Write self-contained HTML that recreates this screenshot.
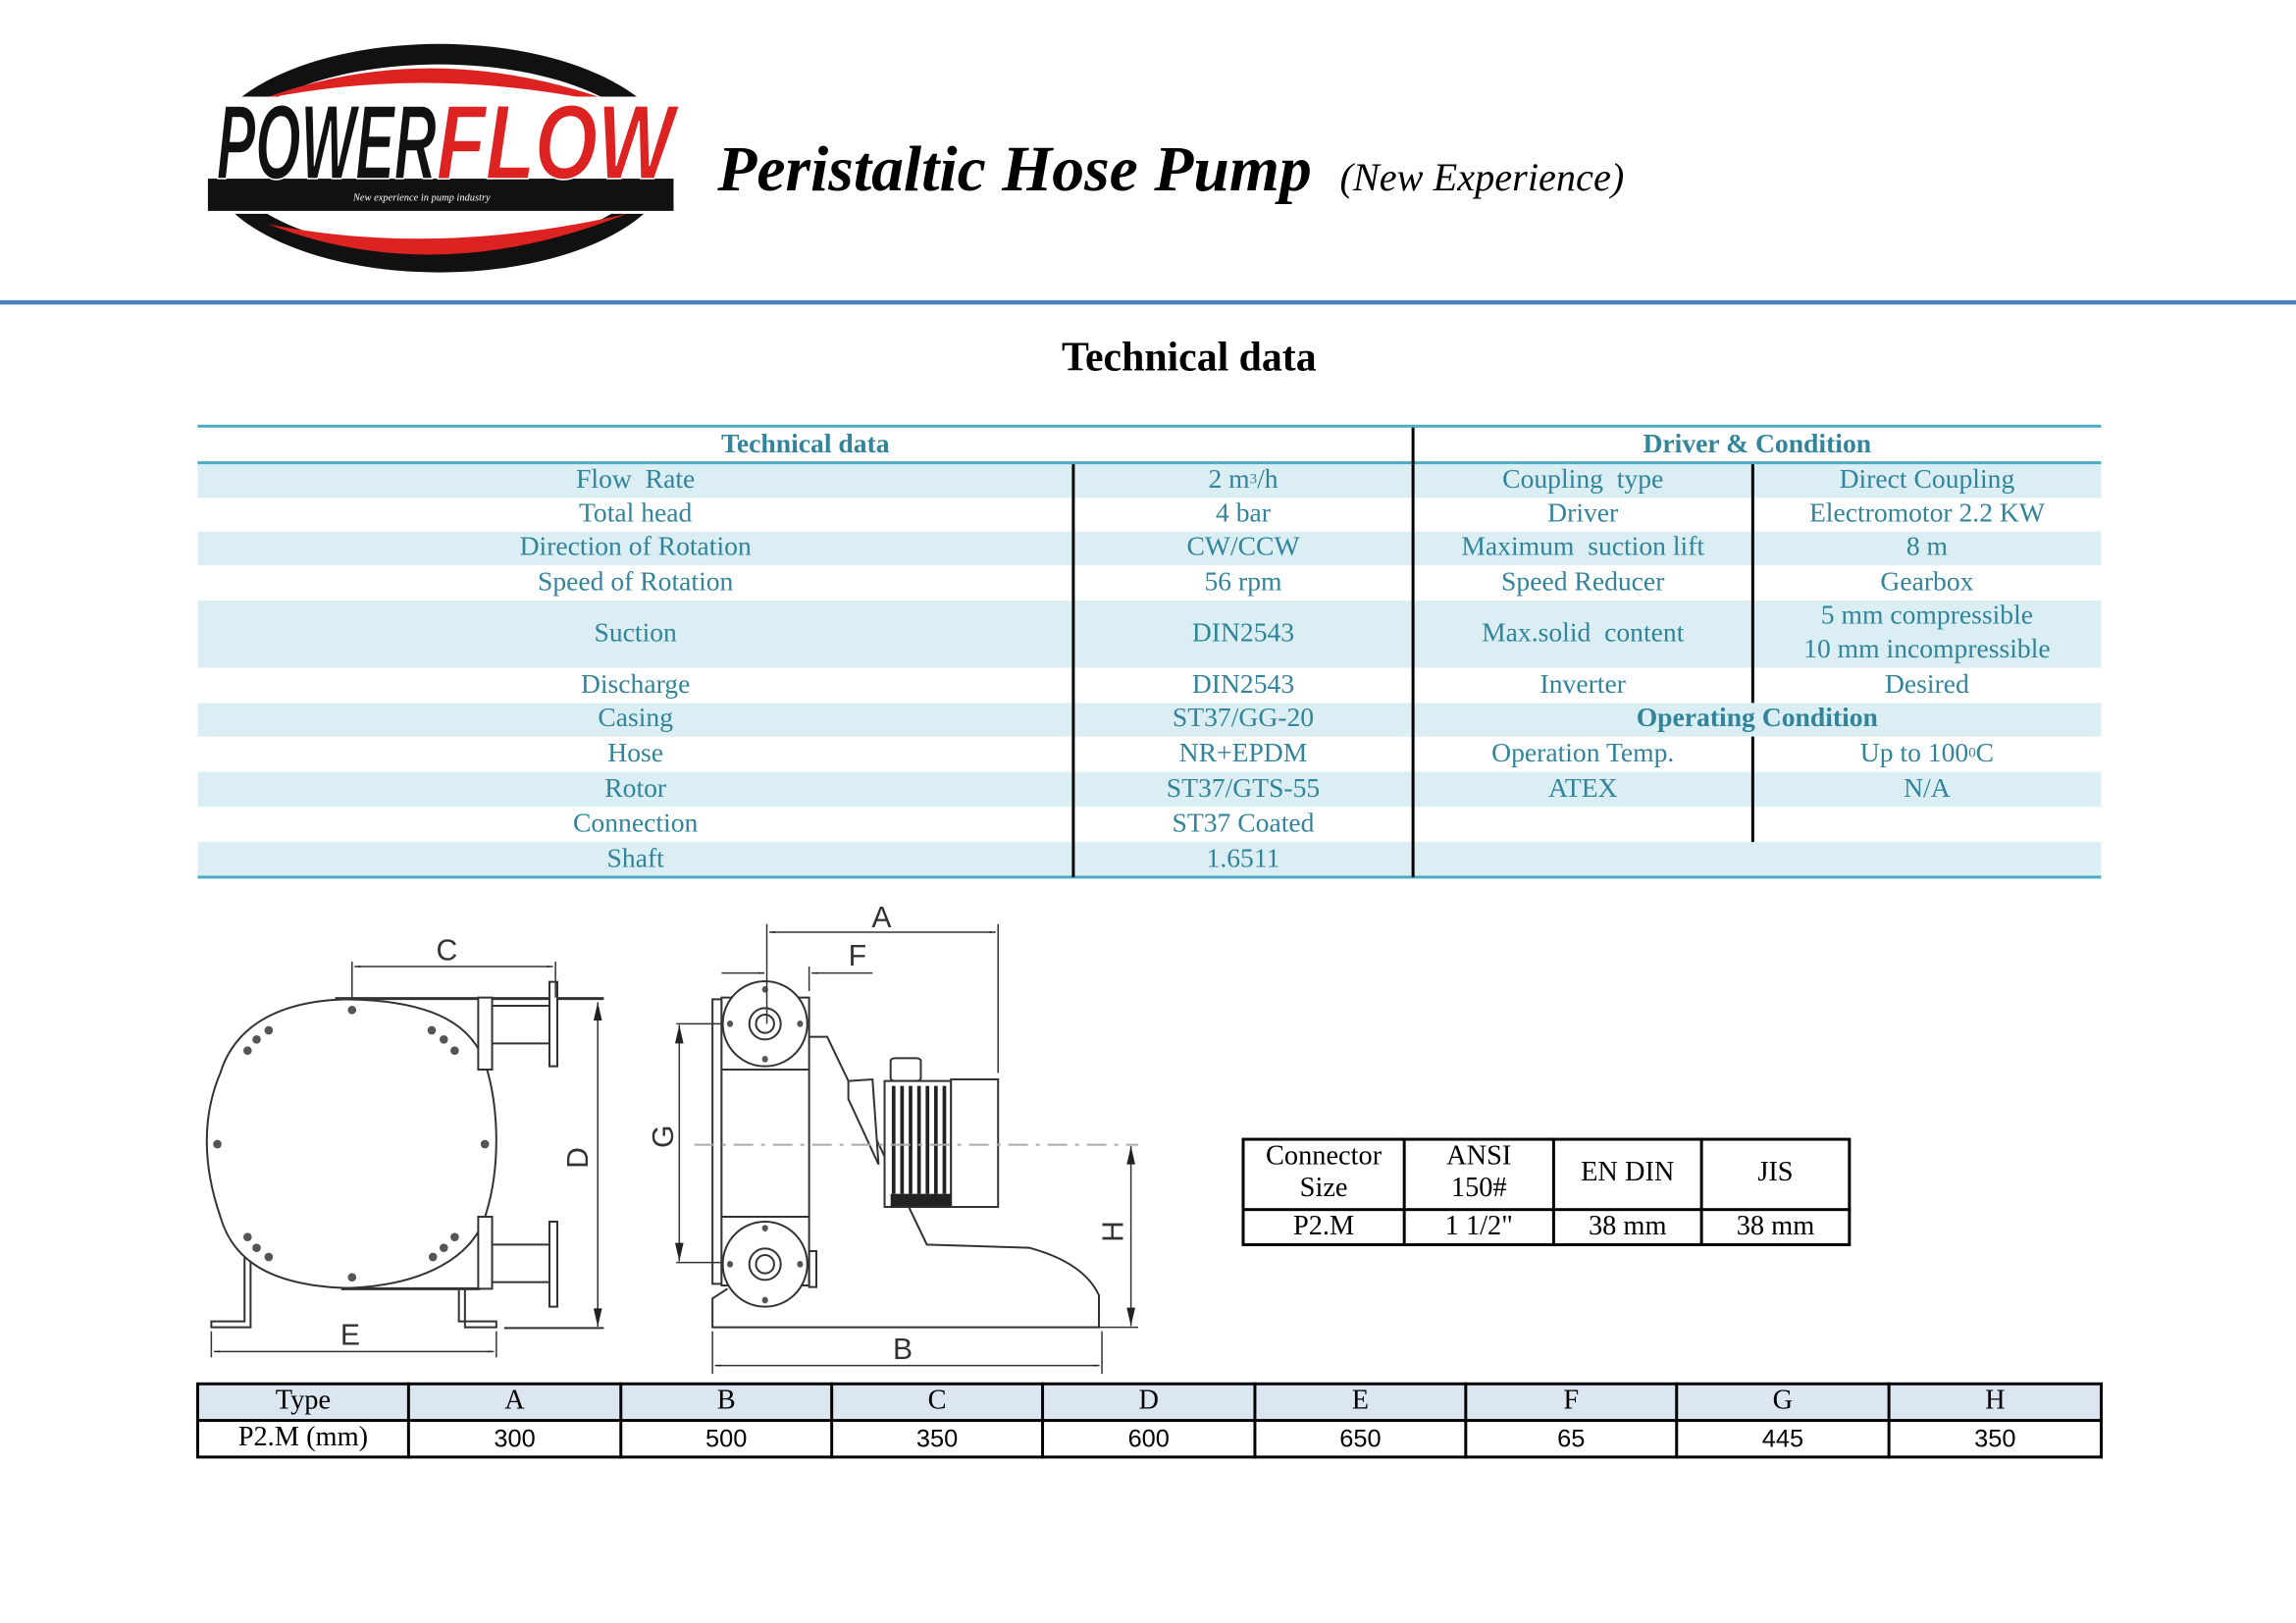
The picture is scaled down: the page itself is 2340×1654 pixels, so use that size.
<!DOCTYPE html>
<html><head><meta charset="utf-8">
<style>
html,body{margin:0;padding:0;background:#fff;}
body{width:2340px;height:1654px;position:relative;overflow:hidden;}
#v{position:absolute;left:0;top:0;width:1568px;height:1108px;transform:scale(1.49235);transform-origin:0 0;}
.a{position:absolute;}
.c{position:absolute;display:flex;align-items:center;justify-content:center;font-family:"Liberation Serif",serif;font-size:18.5px;color:#31849B;white-space:nowrap;line-height:1;}
.bl{position:absolute;background:#DAEEF3;left:135px;width:1300px;}
.tl{position:absolute;background:#4BACC6;left:135px;width:1300px;height:2px;}
.vl{position:absolute;background:#000;width:1.5px;}
.k{position:absolute;display:flex;align-items:center;justify-content:center;font-family:"Liberation Serif",serif;font-size:19px;color:#000;text-align:center;line-height:1.15;box-sizing:border-box;}
.n{font-family:"Liberation Sans",sans-serif;font-size:17px;}
</style></head><body>
<div id="v">
<!-- logo -->
<svg class="a" style="left:138px;top:28px" width="332" height="160" viewBox="0 0 332 160">
<ellipse cx="162" cy="80" rx="160" ry="78" fill="#111"/>
<ellipse cx="162" cy="80" rx="146" ry="64" fill="#fff"/>
<path d="M40 40 Q160 -5 290 45 Q160 15 40 40Z" fill="#d22"/>
<path d="M45 125 Q160 170 290 118 Q160 148 45 125Z" fill="#d22"/>
<rect x="0" y="38" width="332" height="80" fill="#fff"/>
<rect x="4" y="94" width="318" height="22" fill="#111"/>
<text x="10" y="94" font-family="Liberation Sans,sans-serif" font-weight="bold" font-style="italic" font-size="72" fill="#111" stroke="#fff" stroke-width="1" textLength="150" lengthAdjust="spacingAndGlyphs">POWER</text>
<text x="160" y="94" font-family="Liberation Sans,sans-serif" font-weight="bold" font-style="italic" font-size="72" fill="#d22" stroke="#fff" stroke-width="1" textLength="162" lengthAdjust="spacingAndGlyphs">FLOW</text>
<text x="150" y="109" font-family="Liberation Serif,serif" font-style="italic" font-size="7" fill="#fff" text-anchor="middle">New experience in pump industry</text>
</svg>
<div class="a" style="left:490px;top:90px;font-family:'Liberation Serif',serif;font-weight:bold;font-style:italic;font-size:44px;color:#000;white-space:nowrap;">Peristaltic Hose Pump</div>
<div class="a" style="left:915px;top:106px;font-family:'Liberation Serif',serif;font-style:italic;font-size:27px;color:#000;white-space:nowrap;">(New Experience)</div>
<div class="a" style="left:0;top:205px;width:1568px;height:3px;background:#4F81BD;"></div>
<div class="a" style="left:0;top:229px;width:1624px;text-align:center;font-family:'Liberation Serif',serif;font-weight:bold;font-size:28px;">Technical data</div>

<!-- tech table -->
<div class="bl" style="top:316px;height:24px"></div>
<div class="bl" style="top:363px;height:23px"></div>
<div class="bl" style="top:410px;height:46px"></div>
<div class="bl" style="top:480px;height:23px"></div>
<div class="bl" style="top:527px;height:24px"></div>
<div class="bl" style="top:575px;height:24px"></div>
<div class="tl" style="top:290px"></div>
<div class="tl" style="top:315px"></div>
<div class="tl" style="top:598px"></div>
<div class="vl" style="left:732px;top:317px;height:282px"></div>
<div class="vl" style="left:964px;top:292px;height:307px"></div>
<div class="vl" style="left:1196px;top:317px;height:163px"></div>
<div class="vl" style="left:1196px;top:503px;height:72px"></div>

<div class="c" style="left:135px;top:292px;width:830px;height:24px;font-weight:bold;">Technical data</div>
<div class="c" style="left:965px;top:292px;width:470px;height:24px;font-weight:bold;">Driver &amp; Condition</div>

<div class="c" style="left:135px;width:598px;top:316px;height:24px">Flow&nbsp; Rate</div>
<div class="c" style="left:135px;width:598px;top:340px;height:23px">Total head</div>
<div class="c" style="left:135px;width:598px;top:363px;height:23px">Direction of Rotation</div>
<div class="c" style="left:135px;width:598px;top:386px;height:24px">Speed of Rotation</div>
<div class="c" style="left:135px;width:598px;top:410px;height:46px">Suction</div>
<div class="c" style="left:135px;width:598px;top:456px;height:24px">Discharge</div>
<div class="c" style="left:135px;width:598px;top:480px;height:23px">Casing</div>
<div class="c" style="left:135px;width:598px;top:503px;height:24px">Hose</div>
<div class="c" style="left:135px;width:598px;top:527px;height:24px">Rotor</div>
<div class="c" style="left:135px;width:598px;top:551px;height:24px">Connection</div>
<div class="c" style="left:135px;width:598px;top:575px;height:24px">Shaft</div>

<div class="c" style="left:733px;width:232px;top:316px;height:24px">2 m<sup style="font-size:10px">3</sup>/h</div>
<div class="c" style="left:733px;width:232px;top:340px;height:23px">4 bar</div>
<div class="c" style="left:733px;width:232px;top:363px;height:23px">CW/CCW</div>
<div class="c" style="left:733px;width:232px;top:386px;height:24px">56 rpm</div>
<div class="c" style="left:733px;width:232px;top:410px;height:46px">DIN2543</div>
<div class="c" style="left:733px;width:232px;top:456px;height:24px">DIN2543</div>
<div class="c" style="left:733px;width:232px;top:480px;height:23px">ST37/GG-20</div>
<div class="c" style="left:733px;width:232px;top:503px;height:24px">NR+EPDM</div>
<div class="c" style="left:733px;width:232px;top:527px;height:24px">ST37/GTS-55</div>
<div class="c" style="left:733px;width:232px;top:551px;height:24px">ST37 Coated</div>
<div class="c" style="left:733px;width:232px;top:575px;height:24px">1.6511</div>

<div class="c" style="left:965px;width:232px;top:316px;height:24px">Coupling&nbsp; type</div>
<div class="c" style="left:965px;width:232px;top:340px;height:23px">Driver</div>
<div class="c" style="left:965px;width:232px;top:363px;height:23px">Maximum&nbsp; suction lift</div>
<div class="c" style="left:965px;width:232px;top:386px;height:24px">Speed Reducer</div>
<div class="c" style="left:965px;width:232px;top:410px;height:46px">Max.solid&nbsp; content</div>
<div class="c" style="left:965px;width:232px;top:456px;height:24px">Inverter</div>
<div class="c" style="left:965px;width:470px;top:480px;height:23px;font-weight:bold">Operating Condition</div>
<div class="c" style="left:965px;width:232px;top:503px;height:24px">Operation Temp.</div>
<div class="c" style="left:965px;width:232px;top:527px;height:24px">ATEX</div>

<div class="c" style="left:1197px;width:238px;top:316px;height:24px">Direct Coupling</div>
<div class="c" style="left:1197px;width:238px;top:340px;height:23px">Electromotor 2.2 KW</div>
<div class="c" style="left:1197px;width:238px;top:363px;height:23px">8 m</div>
<div class="c" style="left:1197px;width:238px;top:386px;height:24px">Gearbox</div>
<div class="c" style="left:1197px;width:238px;top:410px;height:23px">5 mm compressible</div>
<div class="c" style="left:1197px;width:238px;top:433px;height:23px">10 mm incompressible</div>
<div class="c" style="left:1197px;width:238px;top:456px;height:24px">Desired</div>
<div class="c" style="left:1197px;width:238px;top:503px;height:24px">Up to 100 <sup style="font-size:10px">0</sup>C</div>
<div class="c" style="left:1197px;width:238px;top:527px;height:24px">N/A</div>

<!-- connector table -->
<div class="a" style="left:848px;top:777px;width:416px;height:74px;border:2px solid #000;box-sizing:border-box;"></div>
<div class="a" style="left:848px;top:825px;width:416px;height:2px;background:#000"></div>
<div class="vl" style="left:958px;top:777px;height:74px;width:2px"></div>
<div class="vl" style="left:1060px;top:777px;height:74px;width:2px"></div>
<div class="vl" style="left:1161px;top:777px;height:74px;width:2px"></div>
<div class="k" style="left:850px;top:777px;width:108px;height:48px">Connector<br>Size</div>
<div class="k" style="left:960px;top:777px;width:100px;height:48px">ANSI<br>150#</div>
<div class="k" style="left:1062px;top:777px;width:99px;height:48px">EN DIN</div>
<div class="k" style="left:1163px;top:777px;width:99px;height:48px">JIS</div>
<div class="k" style="left:850px;top:826px;width:108px;height:24px">P2.M</div>
<div class="k" style="left:960px;top:826px;width:100px;height:24px">1 1/2"</div>
<div class="k" style="left:1062px;top:826px;width:99px;height:24px">38 mm</div>
<div class="k" style="left:1163px;top:826px;width:99px;height:24px">38 mm</div>

<!-- bottom table -->
<div class="a" style="left:135px;top:945px;width:1300px;height:25px;background:#DCE6F1"></div>
<div class="a" style="left:134px;top:944px;width:1302px;height:52px;border:2px solid #000;box-sizing:border-box;"></div>
<div class="a" style="left:134px;top:969px;width:1302px;height:2px;background:#000"></div>
<div class="vl" style="left:278px;top:944px;height:52px;width:2px"></div>
<div class="vl" style="left:423px;top:944px;height:52px;width:2px"></div>
<div class="vl" style="left:567px;top:944px;height:52px;width:2px"></div>
<div class="vl" style="left:711px;top:944px;height:52px;width:2px"></div>
<div class="vl" style="left:856px;top:944px;height:52px;width:2px"></div>
<div class="vl" style="left:1000px;top:944px;height:52px;width:2px"></div>
<div class="vl" style="left:1144px;top:944px;height:52px;width:2px"></div>
<div class="vl" style="left:1289px;top:944px;height:52px;width:2px"></div>
<div class="k" style="left:135px;top:945px;width:144px;height:24px">Type</div>
<div class="k" style="left:279px;top:945px;width:145px;height:24px">A</div>
<div class="k" style="left:424px;top:945px;width:144px;height:24px">B</div>
<div class="k" style="left:568px;top:945px;width:144px;height:24px">C</div>
<div class="k" style="left:712px;top:945px;width:145px;height:24px">D</div>
<div class="k" style="left:857px;top:945px;width:144px;height:24px">E</div>
<div class="k" style="left:1001px;top:945px;width:144px;height:24px">F</div>
<div class="k" style="left:1145px;top:945px;width:145px;height:24px">G</div>
<div class="k" style="left:1290px;top:945px;width:145px;height:24px">H</div>
<div class="k" style="left:135px;top:970px;width:144px;height:24px">P2.M (mm)</div>
<div class="k n" style="left:279px;top:971px;width:145px;height:24px">300</div>
<div class="k n" style="left:424px;top:971px;width:144px;height:24px">500</div>
<div class="k n" style="left:568px;top:971px;width:144px;height:24px">350</div>
<div class="k n" style="left:712px;top:971px;width:145px;height:24px">600</div>
<div class="k n" style="left:857px;top:971px;width:144px;height:24px">650</div>
<div class="k n" style="left:1001px;top:971px;width:144px;height:24px">65</div>
<div class="k n" style="left:1145px;top:971px;width:145px;height:24px">445</div>
<div class="k n" style="left:1290px;top:971px;width:145px;height:24px">350</div>
</div>

<!-- diagram in actual coords; x units 1.625/px, y units 3/px -->
<svg style="position:absolute;left:200px;top:920px" width="960" height="490" viewBox="0 0 1560 1470" preserveAspectRatio="none">
<defs>
<marker id="ar" viewBox="0 0 10 10" refX="10" refY="5" markerWidth="10" markerHeight="10" markerUnits="userSpaceOnUse" orient="auto-start-reverse"><path d="M0 2 L10 5 L0 8Z" fill="#222"/></marker>
</defs>
<g fill="none" stroke="#333" stroke-width="2" vector-effect="non-scaling-stroke">
<path vector-effect="non-scaling-stroke" d="M250 295 C400 300 460 380 480 500 C500 620 505 800 480 950 C460 1080 380 1170 250 1178 C120 1170 60 1090 40 960 C10 800 10 650 40 520 C60 400 120 300 250 295 Z" fill="#fff"/>
<line vector-effect="non-scaling-stroke" x1="230" y1="293" x2="675" y2="293" stroke-width="3"/>
<line vector-effect="non-scaling-stroke" x1="240" y1="1180" x2="470" y2="1180" stroke-width="3"/>
<rect vector-effect="non-scaling-stroke" x="467" y="290" width="23" height="220" fill="#fff"/>
<rect vector-effect="non-scaling-stroke" x="467" y="960" width="23" height="220" fill="#fff"/>
<line vector-effect="non-scaling-stroke" x1="490" y1="315" x2="585" y2="315"/><line vector-effect="non-scaling-stroke" x1="490" y1="430" x2="585" y2="430"/>
<rect vector-effect="non-scaling-stroke" x="585" y="242" width="13" height="258" fill="#fff"/>
<line vector-effect="non-scaling-stroke" x1="490" y1="1045" x2="585" y2="1045"/><line vector-effect="non-scaling-stroke" x1="490" y1="1160" x2="585" y2="1160"/>
<rect vector-effect="non-scaling-stroke" x="585" y="975" width="13" height="260" fill="#fff"/>
<path vector-effect="non-scaling-stroke" d="M80 1085 V1280 H25 V1298 H90 V1100"/>
<path vector-effect="non-scaling-stroke" d="M435 1185 V1280 H497 V1298 H445 V1185"/>
<line vector-effect="non-scaling-stroke" x1="510" y1="1300" x2="675" y2="1300"/>
</g>
<g fill="#555">
<ellipse cx="258" cy="328" rx="7" ry="13"/><ellipse cx="258" cy="1145" rx="7" ry="13"/><ellipse cx="35" cy="738" rx="7" ry="13"/><ellipse cx="478" cy="738" rx="7" ry="13"/>
<ellipse cx="120" cy="390" rx="7" ry="13"/><ellipse cx="100" cy="418" rx="7" ry="13"/><ellipse cx="85" cy="452" rx="7" ry="13"/>
<ellipse cx="390" cy="390" rx="7" ry="13"/><ellipse cx="410" cy="418" rx="7" ry="13"/><ellipse cx="428" cy="452" rx="7" ry="13"/>
<ellipse cx="85" cy="1022" rx="7" ry="13"/><ellipse cx="100" cy="1055" rx="7" ry="13"/><ellipse cx="120" cy="1083" rx="7" ry="13"/>
<ellipse cx="428" cy="1022" rx="7" ry="13"/><ellipse cx="410" cy="1055" rx="7" ry="13"/><ellipse cx="392" cy="1083" rx="7" ry="13"/>
</g>
<g fill="none" stroke="#333" stroke-width="2">
<path vector-effect="non-scaling-stroke" d="M1015 410 L1045 410 L1210 1045 L1380 1055 Q1470 1100 1495 1200 L1495 1298 L855 1298 L855 1210 L880 1180" fill="#fff"/>
<rect vector-effect="non-scaling-stroke" x="855" y="295" width="15" height="870" fill="#fff"/>
<rect vector-effect="non-scaling-stroke" x="870" y="290" width="145" height="880" fill="#fff"/>
<line vector-effect="non-scaling-stroke" x1="870" y1="510" x2="1015" y2="510"/><line vector-effect="non-scaling-stroke" x1="870" y1="960" x2="1015" y2="960"/>
<ellipse vector-effect="non-scaling-stroke" cx="942" cy="370" rx="70" ry="130" fill="#fff"/><ellipse vector-effect="non-scaling-stroke" cx="942" cy="370" rx="26" ry="48"/><ellipse vector-effect="non-scaling-stroke" cx="942" cy="370" rx="15" ry="28"/>
<ellipse vector-effect="non-scaling-stroke" cx="942" cy="1105" rx="70" ry="130" fill="#fff"/><ellipse vector-effect="non-scaling-stroke" cx="942" cy="1105" rx="26" ry="48"/><ellipse vector-effect="non-scaling-stroke" cx="942" cy="1105" rx="15" ry="28"/>
<rect vector-effect="non-scaling-stroke" x="1015" y="1065" width="12" height="110"/>
<path vector-effect="non-scaling-stroke" d="M1080 545 L1120 540 L1130 800 L1080 600Z" fill="#fff"/>
<rect vector-effect="non-scaling-stroke" x="1150" y="475" width="50" height="70" rx="8" fill="#fff"/>
<rect vector-effect="non-scaling-stroke" x="1140" y="545" width="110" height="385" fill="#fff"/>
<rect vector-effect="non-scaling-stroke" x="1250" y="540" width="78" height="390" fill="#fff"/>
</g>
<g fill="#222">
<rect x="1150" y="890" width="100" height="38"/>
<rect x="1152" y="560" width="6" height="330"/><rect x="1166" y="560" width="6" height="330"/><rect x="1180" y="560" width="6" height="330"/><rect x="1194" y="560" width="6" height="330"/><rect x="1208" y="560" width="6" height="330"/><rect x="1222" y="560" width="6" height="330"/><rect x="1236" y="560" width="6" height="330"/>
</g>
<g fill="#555"><ellipse cx="942" cy="265" rx="5" ry="10"/><ellipse cx="942" cy="478" rx="5" ry="10"/><ellipse cx="884" cy="370" rx="5" ry="10"/><ellipse cx="1000" cy="370" rx="5" ry="10"/>
<ellipse cx="942" cy="995" rx="5" ry="10"/><ellipse cx="942" cy="1215" rx="5" ry="10"/><ellipse cx="884" cy="1105" rx="5" ry="10"/><ellipse cx="1000" cy="1105" rx="5" ry="10"/></g>
<line vector-effect="non-scaling-stroke" x1="825" y1="740" x2="1560" y2="740" stroke="#aaa" stroke-width="2" stroke-dasharray="20 8 4 8"/>
<g stroke="#333" stroke-width="1.5" fill="none">
<line vector-effect="non-scaling-stroke" x1="258" y1="180" x2="258" y2="295"/><line vector-effect="non-scaling-stroke" x1="595" y1="180" x2="595" y2="290"/>
<line vector-effect="non-scaling-stroke" x1="262" y1="195" x2="591" y2="195" marker-start="url(#ar)" marker-end="url(#ar)"/>
<line vector-effect="non-scaling-stroke" x1="665" y1="304" x2="665" y2="1296"/>
<line vector-effect="non-scaling-stroke" x1="25" y1="1310" x2="25" y2="1390"/><line vector-effect="non-scaling-stroke" x1="497" y1="1310" x2="497" y2="1390"/>
<line vector-effect="non-scaling-stroke" x1="29" y1="1372" x2="493" y2="1372" marker-start="url(#ar)" marker-end="url(#ar)"/>
<line vector-effect="non-scaling-stroke" x1="945" y1="65" x2="945" y2="370"/><line vector-effect="non-scaling-stroke" x1="1328" y1="65" x2="1328" y2="520"/>
<line vector-effect="non-scaling-stroke" x1="949" y1="90" x2="1324" y2="90" marker-start="url(#ar)" marker-end="url(#ar)"/>
<line vector-effect="non-scaling-stroke" x1="1015" y1="195" x2="1015" y2="270"/>
<line vector-effect="non-scaling-stroke" x1="870" y1="215" x2="941" y2="215" marker-end="url(#ar)"/><line vector-effect="non-scaling-stroke" x1="1120" y1="215" x2="1019" y2="215" marker-end="url(#ar)"/>
<line vector-effect="non-scaling-stroke" x1="795" y1="370" x2="870" y2="370"/><line vector-effect="non-scaling-stroke" x1="795" y1="1100" x2="870" y2="1100"/>
<line vector-effect="non-scaling-stroke" x1="800" y1="374" x2="800" y2="1096"/>
<line vector-effect="non-scaling-stroke" x1="1480" y1="1298" x2="1560" y2="1298"/>
<line vector-effect="non-scaling-stroke" x1="1548" y1="744" x2="1548" y2="1294"/>
<line vector-effect="non-scaling-stroke" x1="855" y1="1310" x2="855" y2="1440"/><line vector-effect="non-scaling-stroke" x1="1500" y1="1310" x2="1500" y2="1440"/>
<line vector-effect="non-scaling-stroke" x1="859" y1="1415" x2="1496" y2="1415" marker-start="url(#ar)" marker-end="url(#ar)"/>
</g>
<g fill="#222">
<path d="M665 304 L658 360 L672 360Z"/><path d="M665 1296 L658 1240 L672 1240Z"/>
<path d="M800 374 L793 430 L807 430Z"/><path d="M800 1096 L793 1040 L807 1040Z"/>
<path d="M1548 744 L1541 800 L1555 800Z"/><path d="M1548 1294 L1541 1238 L1555 1238Z"/>
</g>
<g font-family="Liberation Sans,sans-serif" font-size="49" fill="#333" text-anchor="middle">
<text transform="translate(415 175) scale(1 1.846)">C</text>
<text transform="translate(255 1352) scale(1 1.846)">E</text>
<text transform="translate(1135 75) scale(1 1.846)">A</text>
<text transform="translate(1095 192) scale(1 1.846)">F</text>
<text transform="translate(1170 1395) scale(1 1.846)">B</text>
<text transform="translate(648 780) scale(1 1.846) rotate(-90)">D</text>
<text transform="translate(790 715) scale(1 1.846) rotate(-90)">G</text>
<text transform="translate(1535 1005) scale(1 1.846) rotate(-90)">H</text>
</g>
</svg>
</body></html>
